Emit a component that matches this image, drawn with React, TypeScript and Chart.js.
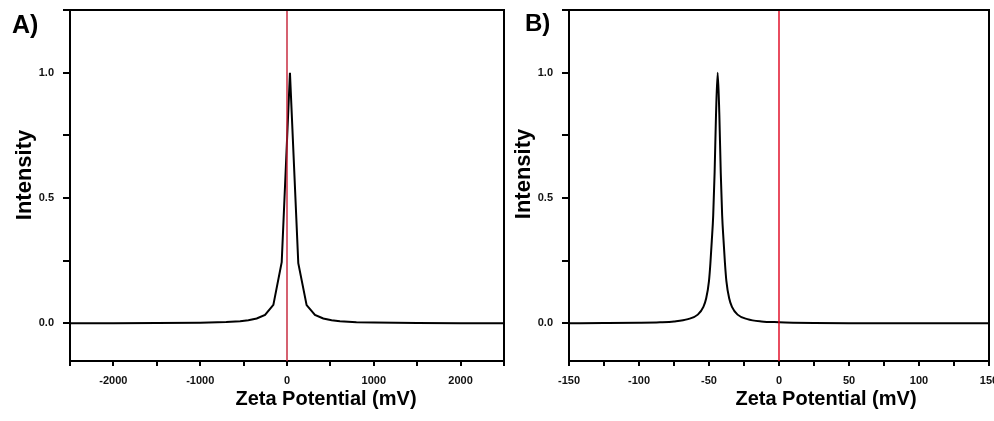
import React, { useEffect, useRef } from 'react';
import { Chart, registerables } from 'chart.js';

Chart.register(...registerables);

// Panel A data (Zeta potential in mV vs normalised intensity)
const zetaA = [-2500, -2000, -1500, -1000, -700, -540, -445, -349, -253, -157, -61, 34, 130, 226, 322, 418, 514, 610, 800, 1000, 1500, 2000, 2500];
const intensityA = [0.0005, 0.0007, 0.0012, 0.0027, 0.0054, 0.0088, 0.0125, 0.0195, 0.034, 0.074, 0.244, 1.0, 0.24, 0.073, 0.034, 0.0194, 0.0125, 0.0087, 0.005, 0.0031, 0.0014, 0.0008, 0.0005];

// Panel B data
const zetaB = [-150, -125, -100, -85, -75, -65, -58, -54, -52, -50, -49, -48, -47, -46, -45, -43.8, -42.6, -41.6, -40.6, -39.6, -38.6, -37.6, -35.6, -33.6, -29.6, -22.6, -12.6, 0, 10, 25, 50, 100, 150];
const intensityB = [0.0007, 0.0012, 0.0025, 0.0045, 0.0078, 0.017, 0.035, 0.066, 0.1, 0.17, 0.24, 0.33, 0.43, 0.6, 0.83, 1.0, 0.83, 0.6, 0.43, 0.33, 0.24, 0.17, 0.1, 0.066, 0.035, 0.017, 0.0078, 0.0045, 0.003, 0.0018, 0.001, 0.0005, 0.0003];

// Tick labels
const yTickLabels = [0, 0.5, 1.0];
const xTickLabelsA = [-2000, -1000, 0, 1000, 2000];
const xTickLabelsB = [-150, -100, -50, 0, 50, 100, 150];

// Reference (zero potential) line
const refLineX = 0;

const Y_MIN = -0.15;
const Y_MAX = 1.25;

const FONT = '"Liberation Sans", Arial, Helvetica, sans-serif';

const framePlugin = {
  id: 'frameLines',
  afterDraw(chart: any) {
    const { ctx, chartArea: a } = chart;
    ctx.save();
    ctx.strokeStyle = '#000';
    ctx.lineWidth = 2;
    ctx.beginPath();
    ctx.moveTo(a.left, a.top);
    ctx.lineTo(a.right, a.top);
    ctx.lineTo(a.right, a.bottom);
    ctx.stroke();
    ctx.restore();
  },
};

type PanelProps = {
  xs: number[];
  ys: number[];
  xMin: number;
  xMax: number;
  xStep: number;
  xLabels: number[];
  left: number;
  width: number;
  smooth: boolean;
  refColor: string;
};

function Panel({ xs, ys, xMin, xMax, xStep, xLabels, left, width, smooth, refColor }: PanelProps) {
  const ref = useRef<HTMLCanvasElement | null>(null);
  useEffect(() => {
    if (!ref.current) return;
    const chart = new Chart(ref.current, {
      type: 'scatter',
      data: {
        datasets: [
          {
            data: [
              { x: refLineX, y: Y_MIN },
              { x: refLineX, y: Y_MAX },
            ],
            showLine: true,
            borderColor: refColor,
            borderWidth: 1.4,
            pointRadius: 0,
          },
          {
            data: xs.map((x, i) => ({ x, y: ys[i] })),
            showLine: true,
            borderColor: '#000',
            borderWidth: 2,
            pointRadius: 0,
            tension: 0,
            cubicInterpolationMode: smooth ? 'monotone' : 'default',
          },
        ],
      },
      options: {
        animation: false,
        responsive: false,
        maintainAspectRatio: false,
        layout: { padding: { left: 0, right: 16, top: 10, bottom: 0 } },
        plugins: { legend: { display: false }, tooltip: { enabled: false } },
        events: [],
        scales: {
          x: {
            type: 'linear',
            min: xMin,
            max: xMax,
            afterFit: (s: any) => {
              s.height = 60;
              s.paddingLeft = 0;
              s.paddingRight = 0;
            },
            border: { display: true, color: '#000', width: 2 },
            grid: {
              display: true,
              drawOnChartArea: false,
              drawTicks: true,
              tickLength: 5,
              tickColor: '#000',
              tickWidth: 2,
              lineWidth: 2,
            },
            ticks: {
              stepSize: xStep,
              autoSkip: false,
              maxRotation: 0,
              padding: 8,
              color: '#111',
              font: { family: FONT, size: 11, weight: 'bold' },
              callback: (v: any) => (xLabels.includes(Number(v)) ? String(v) : ''),
            },
          },
          y: {
            type: 'linear',
            min: Y_MIN,
            max: Y_MAX,
            afterFit: (s: any) => {
              s.width = 70;
              s.paddingTop = 0;
              s.paddingBottom = 0;
            },
            border: { display: true, color: '#000', width: 2 },
            grid: {
              display: true,
              drawOnChartArea: false,
              drawTicks: true,
              tickLength: 7,
              tickColor: '#000',
              tickWidth: 2,
              lineWidth: 2,
            },
            ticks: {
              stepSize: 0.25,
              includeBounds: false,
              padding: 9,
              color: '#111',
              font: { family: FONT, size: 11, weight: 'bold' },
              callback: (v: any) => (yTickLabels.includes(Number(v)) ? Number(v).toFixed(1) : ''),
            },
          },
        },
      } as any,
      plugins: [framePlugin],
    });
    return () => chart.destroy();
  }, []);
  return (
    <canvas
      ref={ref}
      width={width}
      height={421}
      style={{ position: 'absolute', left, top: 0, width, height: 421 }}
    />
  );
}

const textBase: React.CSSProperties = {
  position: 'absolute',
  fontFamily: FONT,
  fontWeight: 'bold',
  color: '#000',
  lineHeight: 1,
  whiteSpace: 'nowrap',
};

export default function App() {
  return (
    <div
      style={{
        position: 'fixed',
        left: 0,
        top: 0,
        width: 994,
        height: 421,
        overflow: 'hidden',
        background: '#fff',
      }}
    >
      <Panel
        xs={zetaA}
        ys={intensityA}
        xMin={-2500}
        xMax={2500}
        xStep={500}
        xLabels={xTickLabelsA}
        left={0}
        width={520}
        smooth={false}
        refColor="#c41e34"
      />
      <Panel
        xs={zetaB}
        ys={intensityB}
        xMin={-150}
        xMax={150}
        xStep={25}
        xLabels={xTickLabelsB}
        left={499}
        width={506}
        smooth={true}
        refColor="#e0001c"
      />
      <div style={{ ...textBase, fontSize: 25, left: 12, top: 11.5 }}>A)</div>
      <div style={{ ...textBase, fontSize: 24, left: 525, top: 11 }}>B)</div>
      <div
        style={{
          ...textBase,
          fontSize: 22,
          left: 23.5,
          top: 174.5,
          transform: 'translate(-50%, -50%) rotate(-90deg)',
        }}
      >
        Intensity
      </div>
      <div
        style={{
          ...textBase,
          fontSize: 22,
          left: 523,
          top: 173.5,
          transform: 'translate(-50%, -50%) rotate(-90deg)',
        }}
      >
        Intensity
      </div>
      <div style={{ ...textBase, fontSize: 20, left: 326, top: 387.5, transform: 'translateX(-50%)' }}>
        Zeta Potential (mV)
      </div>
      <div style={{ ...textBase, fontSize: 20, left: 826, top: 387.5, transform: 'translateX(-50%)' }}>
        Zeta Potential (mV)
      </div>
    </div>
  );
}
